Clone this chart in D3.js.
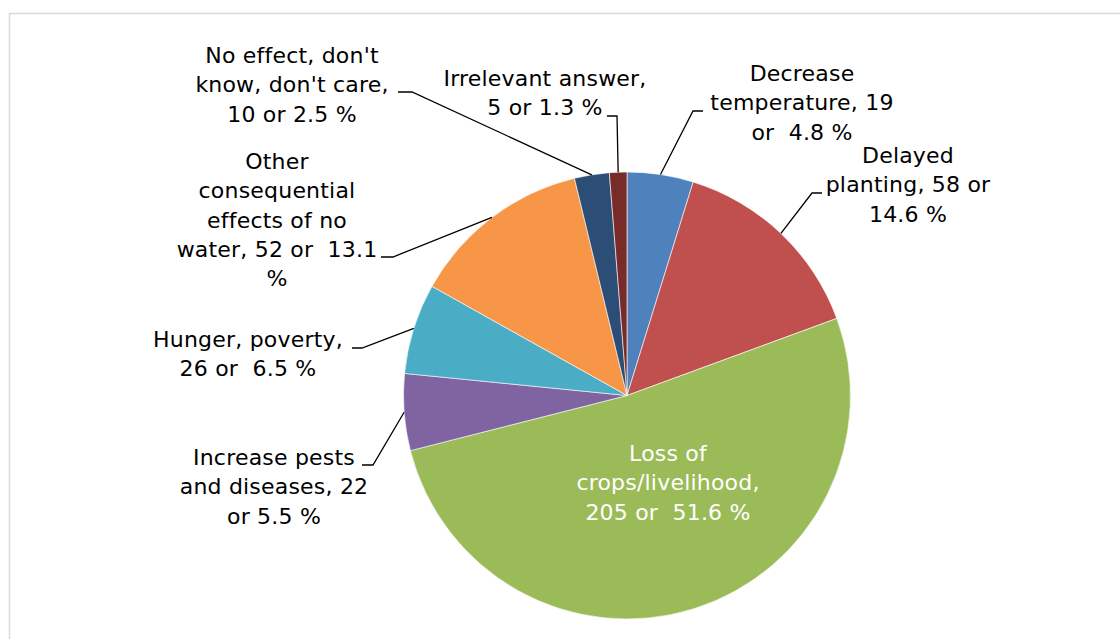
<!DOCTYPE html>
<html>
<head>
<meta charset="utf-8">
<script src="https://cdn.jsdelivr.net/npm/d3@7/dist/d3.min.js"></script>
<style>
  html, body { margin: 0; padding: 0; background: #fff; }
  svg { display: block; }
  text { font-family: "DejaVu Sans", sans-serif; white-space: pre; }
</style>
</head>
<body>
<svg id="chart" width="1120" height="639"></svg>
<script>
// Reported effects of drought, number of respondents per category
const categories = [
  "Decrease temperature",
  "Delayed planting",
  "Loss of crops/livelihood",
  "Increase pests and diseases",
  "Hunger, poverty",
  "Other consequential effects of no water",
  "No effect, don't know, don't care",
  "Irrelevant answer"
];
const counts = [19, 58, 205, 22, 26, 52, 10, 5];
const percents = [4.8, 14.6, 51.6, 5.5, 6.5, 13.1, 2.5, 1.3];

// Data label text, broken into lines
const labelLines = [
  ["Decrease", "temperature, 19", "or  4.8 %"],
  ["Delayed", "planting, 58 or", "14.6 %"],
  ["Loss of", "crops/livelihood,", "205 or  51.6 %"],
  ["Increase pests", "and diseases, 22", "or 5.5 %"],
  ["Hunger, poverty,", "26 or  6.5 %"],
  ["Other", "consequential", "effects of no", "water, 52 or  13.1", "%"],
  ["No effect, don't", "know, don't care,", "10 or 2.5 %"],
  ["Irrelevant answer,", "5 or 1.3 %"]
];

const colors = ["#4F81BD", "#C0504D", "#9BBB59", "#8064A2", "#4BACC6", "#F79646", "#2C4D75", "#772C2A"];

// Label placement: text centre / first baseline, plus leader elbow and end
const labelLayout = [
  { x: 802, y: 81,  elbow: [693, 111], end: [703, 111] },
  { x: 908, y: 163, elbow: [812, 193], end: [822, 193] },
  { x: 668, y: 461, inside: true },
  { x: 274, y: 465, elbow: [373, 465], end: [362, 465] },
  { x: 248, y: 347, elbow: [362, 348], end: [352, 348] },
  { x: 277, y: 169, elbow: [393, 257], end: [381, 257] },
  { x: 292, y: 63,  elbow: [412, 92],  end: [398, 92] },
  { x: 545, y: 86,  elbow: [617, 116], end: [607, 116] }
];

const svg = d3.select("#chart");
const cx = 627, cy = 395.5, radius = 223.5;
const lineHeight = 29.3;
const fontSize = 22;

// chart area frame
svg.append("rect")
  .attr("x", 9.5).attr("y", 13.5)
  .attr("width", 1130).attr("height", 660)
  .attr("fill", "#fff")
  .attr("stroke", "#d9d9d9")
  .attr("stroke-width", 1.5);

const data = categories.map((c, i) => ({ name: c, value: counts[i], pct: percents[i], i }));

const pie = d3.pie().value(d => d.value).sort(null);
const arcs = pie(data);
const arc = d3.arc().innerRadius(0).outerRadius(radius);

const g = svg.append("g").attr("transform", `translate(${cx},${cy})`);

g.selectAll("path.slice")
  .data(arcs)
  .join("path")
  .attr("class", "slice")
  .attr("d", arc)
  .attr("fill", d => colors[d.data.i])
  .attr("stroke", "#fff")
  .attr("stroke-width", 0.6);

// leader lines from slice edge midpoint to label
const leaders = svg.append("g");
arcs.forEach(a => {
  const L = labelLayout[a.data.i];
  if (L.inside) return;
  const mid = (a.startAngle + a.endAngle) / 2;
  const px = cx + radius * Math.sin(mid);
  const py = cy - radius * Math.cos(mid);
  leaders.append("path")
    .attr("d", d3.line()([[px, py], L.elbow, L.end]))
    .attr("fill", "none")
    .attr("stroke", "#000")
    .attr("stroke-width", 1.3);
});

// data labels
const labels = svg.append("g");
arcs.forEach(a => {
  const L = labelLayout[a.data.i];
  const t = labels.append("text")
    .attr("text-anchor", "middle")
    .attr("font-size", fontSize)
    .attr("letter-spacing", 0.2)
    .attr("fill", L.inside ? "#fff" : "#000");
  labelLines[a.data.i].forEach((ln, k) => {
    t.append("tspan")
      .attr("x", L.x)
      .attr("y", L.y + k * lineHeight)
      .text(ln);
  });
});
</script>
</body>
</html>
